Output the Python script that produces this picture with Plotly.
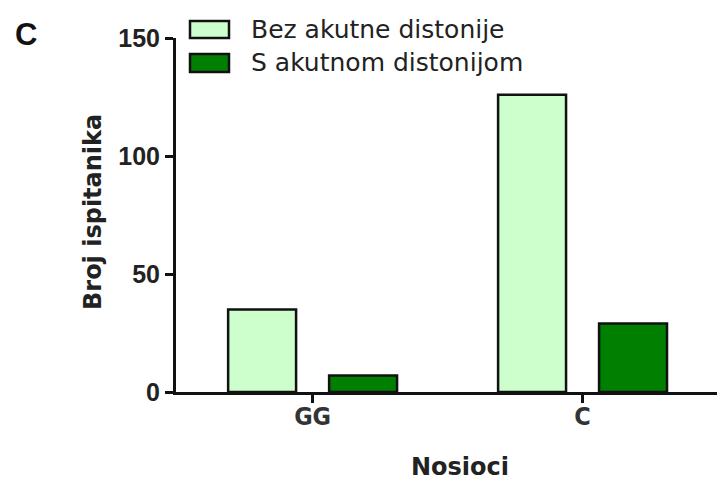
import plotly.graph_objects as go

categories = ["GG", "C"]
series_names = ["Bez akutne distonije", "S akutnom distonijom"]
bez_values = [35, 126]
s_values = [7, 29]
y_ticks = [0, 50, 100, 150]
colors = ["#CCFFCC", "#007F00"]

# layout geometry in pixels
W, H = 717, 483
L, R, T, B = 176, 0, 38, 91
pw, ph = W - L - R, H - T - B

def px(x):
    return (x - L) / pw

def py(y):
    return (H - B - y) / ph

fig = go.Figure()
for name, vals, col in zip(series_names, [bez_values, s_values], colors):
    fig.add_trace(go.Bar(
        x=categories, y=vals, name=name,
        marker=dict(color=col, line=dict(color="#111111", width=2.5)),
        showlegend=False,
    ))

shapes = []
annotations = []
# manual legend
legend_rows = [(21, 38), (54, 72)]
for (y0, y1), name, col in zip(legend_rows, series_names, colors):
    shapes.append(dict(type="rect", xref="paper", yref="paper",
                       x0=px(190), x1=px(229), y0=py(y1), y1=py(y0),
                       fillcolor=col, line=dict(color="#111111", width=2.5)))
    annotations.append(dict(xref="paper", yref="paper", x=px(249), y=py((y0 + y1) / 2),
                            xanchor="left", yanchor="middle", text=name, showarrow=False,
                            font=dict(family="DejaVu Sans", size=25, color="#222222")))

# titles
annotations.append(dict(xref="paper", yref="paper", x=px(460), y=py(467),
                        xanchor="center", yanchor="middle", text="<b>Nosioci</b>", showarrow=False,
                        font=dict(family="DejaVu Sans", size=24, color="#222222")))
annotations.append(dict(xref="paper", yref="paper", x=px(93), y=py(212),
                        xanchor="center", yanchor="middle", text="<b>Broj ispitanika</b>", showarrow=False,
                        textangle=-90,
                        font=dict(family="DejaVu Sans", size=24, color="#222222")))
# panel label
annotations.append(dict(xref="paper", yref="paper", x=px(26), y=py(34),
                        xanchor="center", yanchor="middle", text="<b>C</b>", showarrow=False,
                        font=dict(family="Liberation Sans, Arial", size=31, color="#111111")))

fig.update_layout(
    width=W, height=H,
    margin=dict(l=L, r=R, t=T, b=B, pad=0),
    paper_bgcolor="white", plot_bgcolor="white",
    barmode="group", bargap=0.252, bargroupgap=0.327,
    shapes=shapes, annotations=annotations,
    showlegend=False,
)
fig.update_xaxes(
    range=[-0.506, 1.498], showline=True, linecolor="#111111", linewidth=3,
    ticks="outside", ticklen=8, tickwidth=3, tickcolor="#111111",
    showgrid=False, zeroline=False, ticklabelstandoff=-8,
    tickfont=dict(family="DejaVu Sans Condensed, DejaVu Sans", size=25, color="#333333", weight="bold"),
)
fig.update_yaxes(
    range=[0, 150], tickvals=y_ticks, showline=True, linecolor="#111111", linewidth=3,
    ticks="outside", ticklen=8, tickwidth=3, tickcolor="#111111",
    showgrid=False, zeroline=False, ticklabelstandoff=0,
    tickfont=dict(family="Liberation Sans, Arial", size=25, color="#222222", weight="bold"),
)

fig.write_html("out.html", config={"displayModeBar": False},
               post_script="document.body.style.margin='0';document.body.style.overflow='hidden';")
